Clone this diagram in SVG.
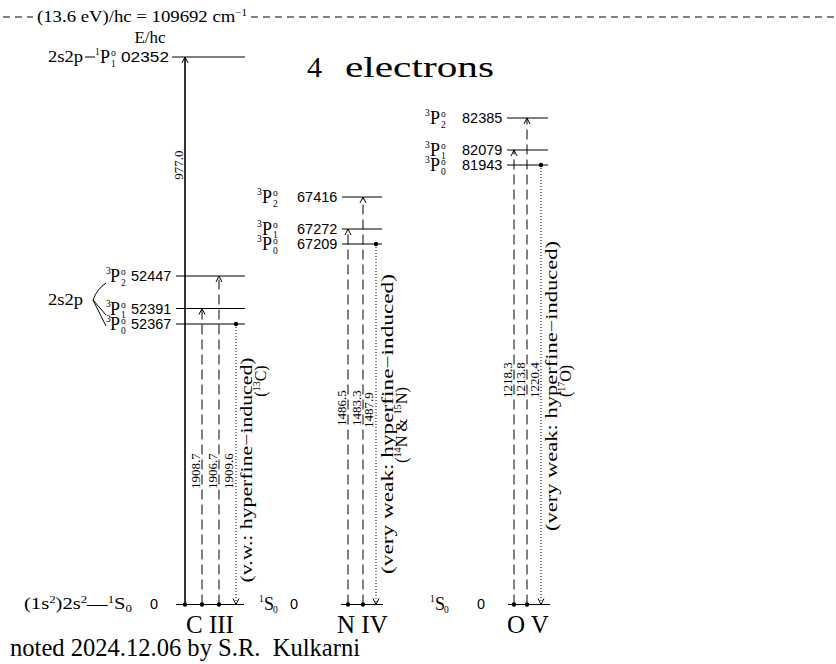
<svg xmlns="http://www.w3.org/2000/svg" width="836" height="664" viewBox="0 0 836 664">
<style>
text{fill:#000}
.term{font-family:"Liberation Serif","DejaVu Serif",serif;font-size:16px}
.P{font-family:"Liberation Serif","DejaVu Serif",serif;font-size:18px}
.sm{font-family:"Liberation Serif","DejaVu Serif",serif;font-size:9.5px}
.n{font-family:"Liberation Sans","DejaVu Sans",sans-serif;font-size:14.5px}
.vl{font-family:"Liberation Serif","DejaVu Serif",serif;font-size:13px}
.vd{font-family:"Liberation Serif","DejaVu Serif",serif;font-size:16px}
.hd{font-family:"Liberation Serif","DejaVu Serif",serif;font-size:17px}
.title{font-family:"Liberation Serif","DejaVu Serif",serif;font-size:30px}
.big{font-family:"Liberation Serif","Times New Roman",serif;font-size:25px}
.lv{stroke:#000;stroke-width:1;fill:none}
.so{stroke:#000;stroke-width:1.6;fill:none}
.da{stroke:#000;stroke-width:1;stroke-dasharray:10 5;fill:none}
.dt{stroke:#000;stroke-width:1;stroke-dasharray:1 2;fill:none}
.hdash{stroke:#000;stroke-width:1;stroke-dasharray:7 5;fill:none}
.dot{fill:#000}
</style>
<defs>
<marker id="ah" viewBox="-8 -5 10 10" markerWidth="10" markerHeight="10" refX="0" refY="0" orient="auto" markerUnits="userSpaceOnUse">
<path d="M-6,-3 L0,0 L-6,3" fill="none" stroke="#000" stroke-width="1"/>
</marker>
</defs>

<g id="header">
<line class="hdash" x1="3" y1="17" x2="33" y2="17"/>
<line class="hdash" x1="251" y1="17" x2="836" y2="17"/>
<text class="hd" x="37" y="22" textLength="210" lengthAdjust="spacingAndGlyphs">(13.6 eV)/hc = 109692 cm<tspan font-size="10" dy="-6">−1</tspan></text>
<text class="term" x="150" y="43" text-anchor="middle" textLength="31" lengthAdjust="spacingAndGlyphs">E/hc</text>
<text class="title" x="307" y="77">4</text>
<text class="title" x="345" y="77" textLength="149" lengthAdjust="spacingAndGlyphs">electrons</text>
</g>

<!-- C III -->
<g id="CIII_1P1">
<text class="term" x="48" y="62" textLength="35" lengthAdjust="spacingAndGlyphs">2s2p</text>
<line class="lv" x1="85" y1="57" x2="95" y2="57"/>
<text class="sm" x="95" y="55">1</text>
<text class="P" x="100" y="63">P</text>
<text class="sm" x="111" y="56">o</text>
<text class="sm" x="111" y="67">1</text>
<text class="n" x="121" y="62" textLength="48" lengthAdjust="spacingAndGlyphs">02352</text>
<line class="lv" x1="172" y1="57" x2="245" y2="57"/>
</g>
<g id="CIII_2s2p">
<text class="term" x="48" y="305" textLength="35" lengthAdjust="spacingAndGlyphs">2s2p</text>
<path class="lv" d="M106,283 Q97,289 93,300 L106,315 M93,300 L106,326"/>
</g>
<g id="CIII_3P2">
<text class="sm" x="106" y="274">3</text>
<text class="P" x="110" y="282">P</text>
<text class="sm" x="121" y="275">o</text>
<text class="sm" x="121" y="286">2</text>
<text class="n" x="131" y="281">52447</text>
<line class="lv" x1="176" y1="276" x2="245" y2="276"/>
</g>
<g id="CIII_3P1">
<text class="sm" x="106" y="306.5">3</text>
<text class="P" x="110" y="314.5">P</text>
<text class="sm" x="121" y="307.5">o</text>
<text class="sm" x="121" y="317.5">1</text>
<text class="n" x="131" y="313.5">52391</text>
<line class="lv" x1="176" y1="308.5" x2="245" y2="308.5"/>
</g>
<g id="CIII_3P0">
<text class="sm" x="106" y="322">3</text>
<text class="P" x="110" y="330">P</text>
<text class="sm" x="121" y="323.5">o</text>
<text class="sm" x="121" y="334">0</text>
<text class="n" x="131" y="329">52367</text>
<line class="lv" x1="176" y1="324" x2="245" y2="324"/>
</g>
<g id="CIII_1S0">
<text class="term" x="24" y="609" textLength="108" lengthAdjust="spacingAndGlyphs">(1s<tspan font-size="10" dy="-6">2</tspan><tspan dy="6">)2s</tspan><tspan font-size="10" dy="-6">2</tspan><tspan dy="6">—</tspan><tspan font-size="10" dy="-6">1</tspan><tspan dy="6">S</tspan><tspan font-size="10" dy="3">0</tspan></text>
<text class="n" x="150" y="609">0</text>
<line class="lv" x1="176" y1="604.5" x2="244" y2="604.5"/>
<text class="big" x="186" y="633">C III</text>
</g>

<!-- N IV -->
<g id="NIV_3P2">
<text class="sm" x="257" y="195">3</text>
<text class="P" x="262" y="203">P</text>
<text class="sm" x="273" y="196">o</text>
<text class="sm" x="273" y="207">2</text>
<text class="n" x="297" y="202">67416</text>
<line class="lv" x1="342" y1="197" x2="382" y2="197"/>
</g>
<g id="NIV_3P1">
<text class="sm" x="257" y="227">3</text>
<text class="P" x="262" y="235">P</text>
<text class="sm" x="273" y="228">o</text>
<text class="sm" x="273" y="238">1</text>
<text class="n" x="297" y="234">67272</text>
<line class="lv" x1="342" y1="229" x2="382" y2="229"/>
</g>
<g id="NIV_3P0">
<text class="sm" x="257" y="242">3</text>
<text class="P" x="262" y="250">P</text>
<text class="sm" x="273" y="243.5">o</text>
<text class="sm" x="273" y="254">0</text>
<text class="n" x="297" y="249">67209</text>
<line class="lv" x1="342" y1="244" x2="382" y2="244"/>
</g>
<g id="NIV_1S0">
<text class="sm" x="259" y="602">1</text>
<text class="P" x="264" y="610" font-size="16">S</text>
<text class="sm" x="273" y="613">0</text>
<text class="n" x="290" y="609">0</text>
<line class="lv" x1="341" y1="604.5" x2="383" y2="604.5"/>
<text class="big" x="337" y="633">N IV</text>
</g>

<!-- O V -->
<g id="OV_3P2">
<text class="sm" x="425" y="116">3</text>
<text class="P" x="430" y="124">P</text>
<text class="sm" x="441" y="117">o</text>
<text class="sm" x="441" y="128">2</text>
<text class="n" x="462" y="123">82385</text>
<line class="lv" x1="507" y1="118" x2="548" y2="118"/>
</g>
<g id="OV_3P1">
<text class="sm" x="425" y="148">3</text>
<text class="P" x="430" y="156">P</text>
<text class="sm" x="441" y="149">o</text>
<text class="sm" x="441" y="159">1</text>
<text class="n" x="462" y="155">82079</text>
<line class="lv" x1="507" y1="150" x2="548" y2="150"/>
</g>
<g id="OV_3P0">
<text class="sm" x="425" y="163">3</text>
<text class="P" x="430" y="171">P</text>
<text class="sm" x="441" y="164.5">o</text>
<text class="sm" x="441" y="175">0</text>
<text class="n" x="462" y="170">81943</text>
<line class="lv" x1="507" y1="165" x2="548" y2="165"/>
</g>
<g id="OV_1S0">
<text class="sm" x="430" y="602">1</text>
<text class="P" x="435" y="610" font-size="16">S</text>
<text class="sm" x="444" y="613">0</text>
<text class="n" x="477" y="609">0</text>
<line class="lv" x1="508" y1="604.5" x2="550" y2="604.5"/>
<text class="big" x="507" y="633">O V</text>
</g>

<g id="connectors">
<!-- C III -->
<line class="so" x1="185" y1="604.5" x2="185" y2="57" marker-end="url(#ah)"/>
<line class="da" x1="202" y1="604.5" x2="202" y2="308.5" marker-end="url(#ah)"/>
<line class="da" x1="219" y1="604.5" x2="219" y2="276" marker-end="url(#ah)"/>
<line class="dt" x1="236" y1="324" x2="236" y2="604.5" marker-end="url(#ah)"/>
<circle class="dot" cx="185" cy="604.5" r="2.2"/>
<circle class="dot" cx="202" cy="604.5" r="2.2"/>
<circle class="dot" cx="219" cy="604.5" r="2.2"/>
<circle class="dot" cx="236" cy="324" r="2.2"/>
<!-- N IV -->
<line class="da" x1="348" y1="604.5" x2="348" y2="229" marker-end="url(#ah)"/>
<line class="da" x1="363" y1="604.5" x2="363" y2="197" marker-end="url(#ah)"/>
<line class="dt" x1="376" y1="244" x2="376" y2="604.5" marker-end="url(#ah)"/>
<circle class="dot" cx="348" cy="604.5" r="2.2"/>
<circle class="dot" cx="363" cy="604.5" r="2.2"/>
<circle class="dot" cx="376" cy="244" r="2.2"/>
<!-- O V -->
<line class="da" x1="514" y1="604.5" x2="514" y2="150" marker-end="url(#ah)"/>
<line class="da" x1="527" y1="604.5" x2="527" y2="118" marker-end="url(#ah)"/>
<line class="dt" x1="541" y1="165" x2="541" y2="604.5" marker-end="url(#ah)"/>
<circle class="dot" cx="514" cy="604.5" r="2.2"/>
<circle class="dot" cx="527" cy="604.5" r="2.2"/>
<circle class="dot" cx="541" cy="165" r="2.2"/>
</g>

<g id="labels">
<text class="vl" x="183" y="165" text-anchor="middle" transform="rotate(-90 183 165)">977.0</text>
<text class="vl" x="200" y="471" text-anchor="middle" transform="rotate(-90 200 471)">1908.7</text>
<text class="vl" x="217" y="471" text-anchor="middle" transform="rotate(-90 217 471)">1906.7</text>
<text class="vl" x="233" y="471" text-anchor="middle" transform="rotate(-90 233 471)">1909.6</text>
<text class="vd" x="252" y="470" text-anchor="middle" transform="rotate(-90 252 470)" textLength="225" lengthAdjust="spacingAndGlyphs">(v.w.: hyperfine−induced)</text>
<text class="vd" x="266" y="381" text-anchor="middle" transform="rotate(-90 266 381)">(<tspan font-size="10" dy="-6">13</tspan><tspan dy="6">C)</tspan></text>

<text class="vl" x="346" y="408" text-anchor="middle" transform="rotate(-90 346 408)">1486.5</text>
<text class="vl" x="361" y="408" text-anchor="middle" transform="rotate(-90 361 408)">1483.3</text>
<text class="vl" x="373" y="410" text-anchor="middle" transform="rotate(-90 373 410)">1487.9</text>
<text class="vd" x="393" y="424" text-anchor="middle" transform="rotate(-90 393 424)" textLength="300" lengthAdjust="spacingAndGlyphs">(very weak: hyperfine−induced)</text>
<text class="vd" x="407" y="425" text-anchor="middle" transform="rotate(-90 407 425)" textLength="76" lengthAdjust="spacingAndGlyphs">(<tspan font-size="10" dy="-6">14</tspan><tspan dy="6">N &amp; </tspan><tspan font-size="10" dy="-6">15</tspan><tspan dy="6">N)</tspan></text>

<text class="vl" x="512" y="380" text-anchor="middle" transform="rotate(-90 512 380)">1218.3</text>
<text class="vl" x="525" y="380" text-anchor="middle" transform="rotate(-90 525 380)">1213.8</text>
<text class="vl" x="539" y="380" text-anchor="middle" transform="rotate(-90 539 380)">1220.4</text>
<text class="vd" x="557" y="386" text-anchor="middle" transform="rotate(-90 557 386)" textLength="290" lengthAdjust="spacingAndGlyphs">(very weak: hyperfine−induced)</text>
<text class="vd" x="571" y="381" text-anchor="middle" transform="rotate(-90 571 381)">(<tspan font-size="10" dy="-6">17</tspan><tspan dy="6">O)</tspan></text>
</g>

<text class="big" x="10" y="656" style="white-space:pre" font-size="22" textLength="350" lengthAdjust="spacingAndGlyphs">noted 2024.12.06 by S.R.  Kulkarni</text>
</svg>
